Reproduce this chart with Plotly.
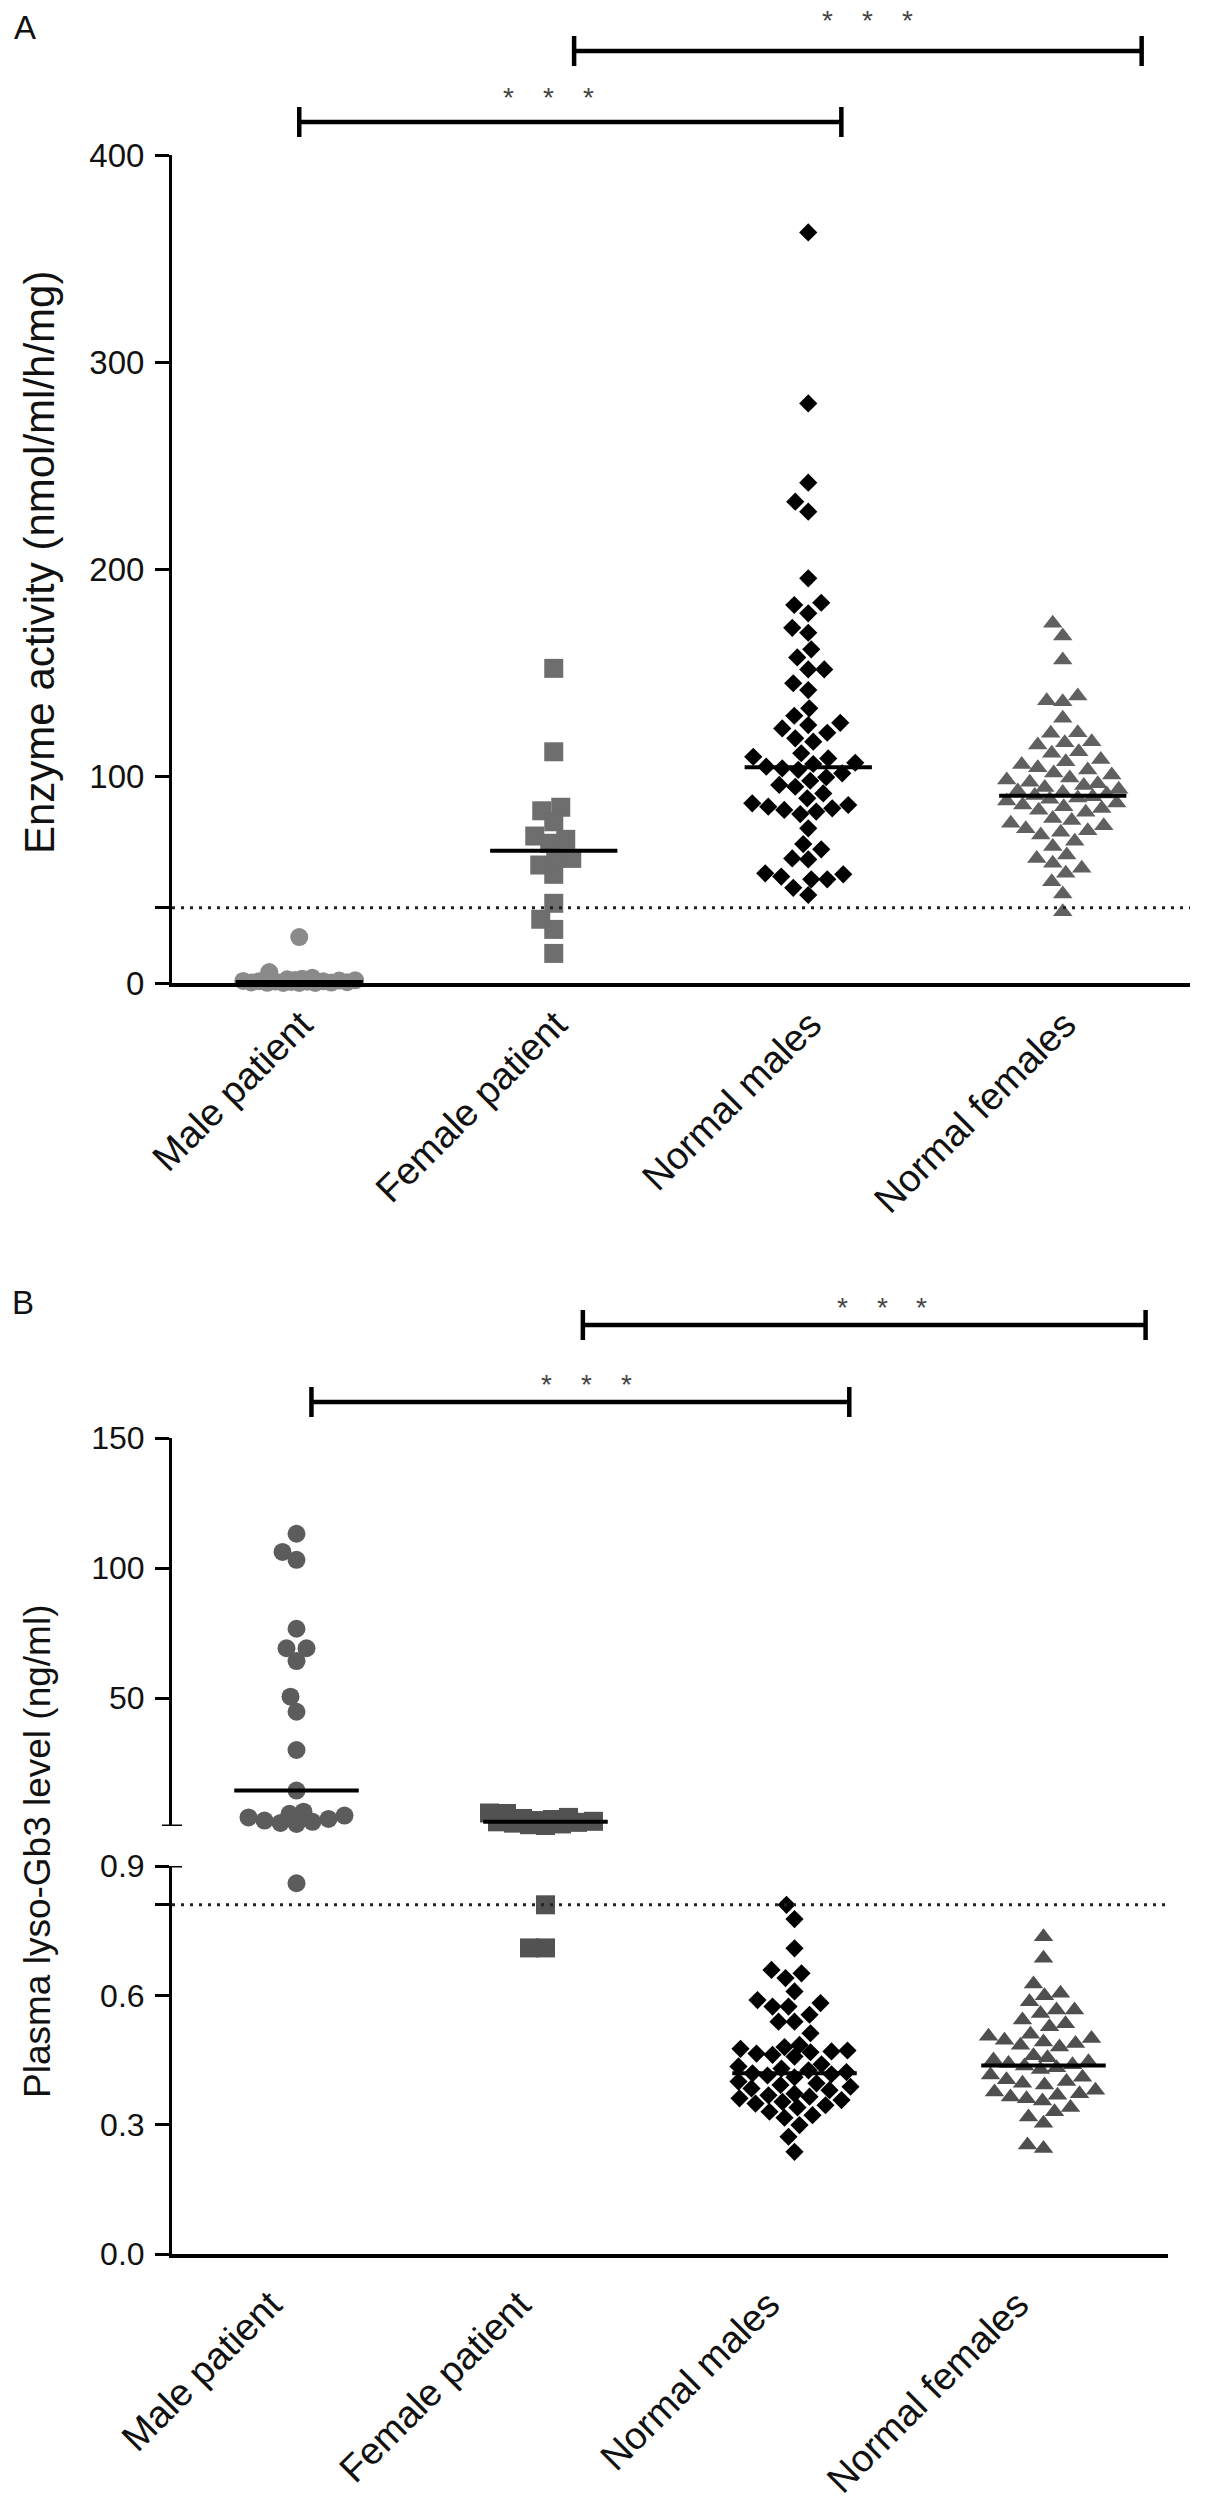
"""Enzyme activity (A) and plasma lyso-Gb3 (B) scatter dot plots by group."""

import numpy as np
import plotly.graph_objects as go

W, H = 1205, 2500

categories = ["Male patient", "Female patient", "Normal males", "Normal females"]

# Panel A: enzyme activity (nmol/ml/h/mg)
male_patient_a = [22.2, 5.3, 2.5, 2.0, 1.8, 1.5, 1.3, 1.2, 1.0, 0.9, 0.8,
                  0.7, 0.6, 0.5, 0.4, 0.3, 0.2, 0.1, 0.0, 0.0, 0.0]
female_patient_a = [152.0, 111.7, 84.9, 83.2, 77.9, 71.0, 69.4, 67.5, 60.2,
                    60.2, 57.0, 52.5, 38.5, 30.8, 25.9, 14.3]
normal_males_a = [362.6, 280.0, 241.7, 232.5, 227.7, 195.5, 183.7, 182.6, 178.6,
                  171.6, 169.2, 161.2, 157.3, 151.5, 151.5, 144.8, 141.5, 132.7,
                  129.1, 125.7, 124.6, 123.0, 120.9, 118.2, 116.6, 111.0, 109.3,
                  108.5, 106.4, 105.8, 104.5, 103.7, 103.0, 101.3, 99.4, 97.7,
                  95.7, 94.8, 91.6, 89.2, 86.8, 86.0, 85.2, 84.4, 83.6, 82.8,
                  81.6, 74.7, 67.1, 64.6, 60.2, 59.7, 53.0, 52.5, 51.4, 50.1,
                  50.1, 46.0, 42.5]
normal_females_a = [173.8, 167.6, 156.0, 138.6, 136.4, 135.9, 127.9, 120.9, 120.6,
                    116.6, 116.1, 115.0, 111.7, 111.0, 108.0, 106.9, 105.5, 104.0,
                    102.9, 101.5, 100.5, 99.0, 98.1, 97.0, 96.2, 95.4, 94.5, 93.6,
                    92.8, 92.0, 91.3, 90.6, 90.0, 89.4, 88.8, 87.9, 87.0, 86.0,
                    85.2, 84.3, 83.5, 82.5, 79.5, 78.5, 77.2, 76.0, 74.5, 73.5,
                    72.8, 71.5, 68.5, 66.0, 61.8, 60.2, 57.8, 55.4, 53.0, 48.9,
                    43.0, 34.4]
medians_a = [0.5, 63.9, 104.2, 90.4]
cutoff_a = 36.4

# Panel B: plasma lyso-Gb3 (ng/ml), axis broken at 0.9
male_patient_b = [113.2, 106.2, 103.2, 76.7, 69.2, 69.2, 64.3, 50.6, 44.8, 30.1,
                  14.5, 6.4, 5.6, 4.9, 4.2, 3.6, 3.0, 2.5, 2.1, 1.7, 0.86]
female_patient_b = [5.9, 5.7, 4.2, 3.8, 3.4, 3.0, 2.7, 2.5, 2.3, 2.0, 1.7, 1.4,
                    1.1, 0.81, 0.71, 0.71]
normal_males_b = [0.810, 0.777, 0.709, 0.659, 0.651, 0.640, 0.609, 0.589, 0.582,
                  0.574, 0.574, 0.555, 0.539, 0.539, 0.512, 0.485, 0.480, 0.476,
                  0.472, 0.470, 0.468, 0.465, 0.462, 0.458, 0.440, 0.435, 0.430,
                  0.426, 0.422, 0.419, 0.417, 0.414, 0.410, 0.400, 0.396, 0.392,
                  0.388, 0.384, 0.380, 0.372, 0.368, 0.365, 0.361, 0.357, 0.353,
                  0.349, 0.345, 0.340, 0.330, 0.322, 0.316, 0.299, 0.272, 0.237]
normal_females_b = [0.736, 0.686, 0.626, 0.605, 0.599, 0.585, 0.566, 0.566, 0.558,
                    0.543, 0.534, 0.527, 0.510, 0.505, 0.500, 0.496, 0.492, 0.488,
                    0.484, 0.480, 0.460, 0.455, 0.450, 0.446, 0.442, 0.439, 0.436,
                    0.432, 0.428, 0.415, 0.410, 0.404, 0.400, 0.396, 0.392, 0.380,
                    0.376, 0.372, 0.368, 0.364, 0.360, 0.355, 0.340, 0.330, 0.318,
                    0.303, 0.253, 0.245]
medians_b = [14.5, 2.5, 0.419, 0.437]
cutoff_b = 0.81
break_b = 0.9

# Significance brackets (category units)
brackets_a = [(0.0, 2.13), (1.08, 3.31)]
brackets_b = [(0.06, 2.22), (1.15, 3.41)]

FONT = "Liberation Sans, Arial, sans-serif"


def px_x(p):
    return p / W


def px_y(p):
    return 1 - p / H


# pixel frames of the subplots
A_X0, A_X1, A_TOP, A_BOT = 172, 1190, 155, 983
B_X0, B_X1 = 172, 1168
BU_TOP, BU_BOT = 1438, 1826
BL_TOP, BL_BOT = 1866, 2254

a_xs = (A_X1 - A_X0) / 4.0
a_ys = (A_BOT - A_TOP) / 400.0
b_xs = (B_X1 - B_X0) / 4.0
bu_ys = (BU_BOT - BU_TOP) / (150 - break_b)
bl_ys = (BL_BOT - BL_TOP) / break_b


def swarm(vals, yscale, d=16.0, max_off=56.0):
    """Simple beeswarm: place each point (ascending) closest to centre without overlap."""
    vals = np.asarray(vals, float)
    offs = np.zeros(len(vals))
    cands = sorted(np.arange(-max_off, max_off + 0.5, 1.0), key=lambda c: (abs(c), c))
    placed = []
    for i in np.argsort(vals, kind="stable"):
        y = vals[i] * yscale
        best, best_md = 0.0, -1.0
        for c in cands:
            md = min((np.hypot(c - px, y - py) for px, py in placed), default=1e9)
            if md >= d:
                best = c
                break
            if md > best_md:
                best_md, best = md, c
        offs[i] = best
        placed.append((best, y))
    return offs


symbols = ["circle", "square", "diamond", "triangle-up"]
sizes = [18, 19, 14, 17]
colors_a = ["#8a8a8a", "#6e6e6e", "#000000", "#606060"]
colors_b = ["#5c5c5c", "#525252", "#000000", "#4f4f4f"]

fig = go.Figure()

groups_a = [male_patient_a, female_patient_a, normal_males_a, normal_females_a]
for i, vals in enumerate(groups_a):
    offs = swarm(vals, a_ys) / a_xs
    fig.add_trace(go.Scatter(
        x=i + offs, y=vals, mode="markers", cliponaxis=False, showlegend=False,
        marker=dict(symbol=symbols[i], size=sizes[i], color=colors_a[i], line_width=0),
        xaxis="x", yaxis="y",
    ))

groups_b = [male_patient_b, female_patient_b, normal_males_b, normal_females_b]
for i, vals in enumerate(groups_b):
    up = [v for v in vals if v >= break_b]
    low = [v for v in vals if v < break_b]
    for seg, ys, yax in ((up, bu_ys, "y3"), (low, bl_ys, "y2")):
        if not seg:
            continue
        offs = swarm(seg, ys) / b_xs
        fig.add_trace(go.Scatter(
            x=i + offs, y=seg, mode="markers", cliponaxis=False, showlegend=False,
            marker=dict(symbol=symbols[i], size=sizes[i], color=colors_b[i], line_width=0),
            xaxis="x2", yaxis=yax,
        ))

# median lines
for i, m in enumerate(medians_a):
    fig.add_trace(go.Scatter(x=[i - 0.25, i + 0.25], y=[m, m], mode="lines",
                             line=dict(color="black", width=4), cliponaxis=False,
                             showlegend=False, xaxis="x", yaxis="y"))
for i, m in enumerate(medians_b):
    fig.add_trace(go.Scatter(x=[i - 0.25, i + 0.25], y=[m, m], mode="lines",
                             line=dict(color="black", width=4), cliponaxis=False,
                             showlegend=False, xaxis="x2",
                             yaxis="y3" if m >= break_b else "y2"))

shapes = []
dots = dict(color="#222222", width=3, dash="3px,6px")
shapes.append(dict(type="line", xref="x", yref="y", x0=-0.5, x1=3.5,
                   y0=cutoff_a, y1=cutoff_a, line=dots))
shapes.append(dict(type="line", xref="x2", yref="y2", x0=-0.5, x1=3.5,
                   y0=cutoff_b, y1=cutoff_b, line=dots))

# brackets: bar height in pixels from the top of the page
bar = dict(color="black", width=4.5)
for (x0, x1), yb in zip(brackets_a, (122, 51)):
    shapes.append(dict(type="line", xref="x", yref="paper", x0=x0, x1=x1,
                       y0=px_y(yb), y1=px_y(yb), line=bar))
    for xx in (x0, x1):
        shapes.append(dict(type="line", xref="x", yref="paper", x0=xx, x1=xx,
                           y0=px_y(yb - 15), y1=px_y(yb + 15), line=bar))
for (x0, x1), yb in zip(brackets_b, (1402, 1325)):
    shapes.append(dict(type="line", xref="x2", yref="paper", x0=x0, x1=x1,
                       y0=px_y(yb), y1=px_y(yb), line=bar))
    for xx in (x0, x1):
        shapes.append(dict(type="line", xref="x2", yref="paper", x0=xx, x1=xx,
                           y0=px_y(yb - 15), y1=px_y(yb + 15), line=bar))

# axis break caps
cap = dict(color="black", width=3)
shapes.append(dict(type="line", xref="paper", yref="y3", x0=px_x(162), x1=px_x(182),
                   y0=break_b, y1=break_b, line=cap))
shapes.append(dict(type="line", xref="paper", yref="y2", x0=px_x(172), x1=px_x(182),
                   y0=break_b, y1=break_b, line=cap))

centre = dict(xref="paper", yref="paper", showarrow=False, xanchor="center",
              yanchor="middle")
annotations = [
    dict(centre, text="A", x=px_x(25), y=px_y(27), font=dict(size=33, color="#111")),
    dict(centre, text="B", x=px_x(23), y=px_y(1302), font=dict(size=33, color="#111")),
    dict(centre, text="Enzyme activity (nmol/ml/h/mg)", x=px_x(39), y=px_y(563),
         textangle=-90, font=dict(size=42, color="#111")),
    dict(centre, text="Plasma lyso-Gb3 level (ng/ml)", x=px_x(37), y=px_y(1852),
         textangle=-90, font=dict(size=37, color="#111")),
]
star_rows = [(827, 18), (508, 95), (842, 1305), (546, 1382)]
for sx, sy in star_rows:
    for k in range(3):
        annotations.append(dict(text="*", x=px_x(sx + 40 * k), y=px_y(sy - 15),
                                xref="paper", yref="paper", showarrow=False,
                                xanchor="center", yanchor="top",
                                font=dict(size=28, color="#444")))

axis_common = dict(showgrid=False, zeroline=False, showline=True, linecolor="black",
                   fixedrange=True, automargin=False)
xcommon = dict(axis_common, linewidth=4, range=[-0.5, 3.5], tickvals=[0, 1, 2, 3],
               ticktext=categories, tickangle=-45, ticks="",
               tickfont=dict(size=38, color="#111"))
ycommon = dict(axis_common, linewidth=3, ticks="outside", ticklen=14, tickwidth=3,
               tickcolor="black", ticklabelstandoff=4)

fig.update_layout(
    width=W, height=H,
    margin=dict(l=0, r=0, t=0, b=0, autoexpand=False),
    paper_bgcolor="white", plot_bgcolor="white",
    font=dict(family=FONT, color="#111"),
    xaxis=dict(xcommon, domain=[px_x(A_X0), px_x(A_X1)], anchor="y",
               ticklabelstandoff=0, ticklabelshift=2),
    yaxis=dict(ycommon, domain=[px_y(A_BOT), px_y(A_TOP)], anchor="x", range=[0, 400],
               tickvals=[0, 100, 200, 300, 400, cutoff_a],
               ticktext=["0", "100", "200", "300", "400", ""],
               tickfont=dict(size=33, color="#111")),
    xaxis2=dict(xcommon, domain=[px_x(B_X0), px_x(B_X1)], anchor="y2",
                ticklabelstandoff=9, ticklabelshift=-26),
    yaxis2=dict(ycommon, domain=[px_y(BL_BOT), px_y(BL_TOP)], anchor="x2",
                range=[0, break_b], tickvals=[0, 0.3, 0.6, 0.9, cutoff_b],
                ticktext=["0.0", "0.3", "0.6", "0.9", ""],
                tickfont=dict(size=32, color="#111")),
    yaxis3=dict(ycommon, domain=[px_y(BU_BOT), px_y(BU_TOP)], anchor="x2",
                range=[break_b, 150], tickvals=[50, 100, 150],
                ticktext=["50", "100", "150"],
                tickfont=dict(size=32, color="#111")),
    shapes=shapes,
    annotations=annotations,
    showlegend=False,
)

fig.write_html("out.html", config={"displayModeBar": False},
               post_script="document.body.style.margin='0';")
